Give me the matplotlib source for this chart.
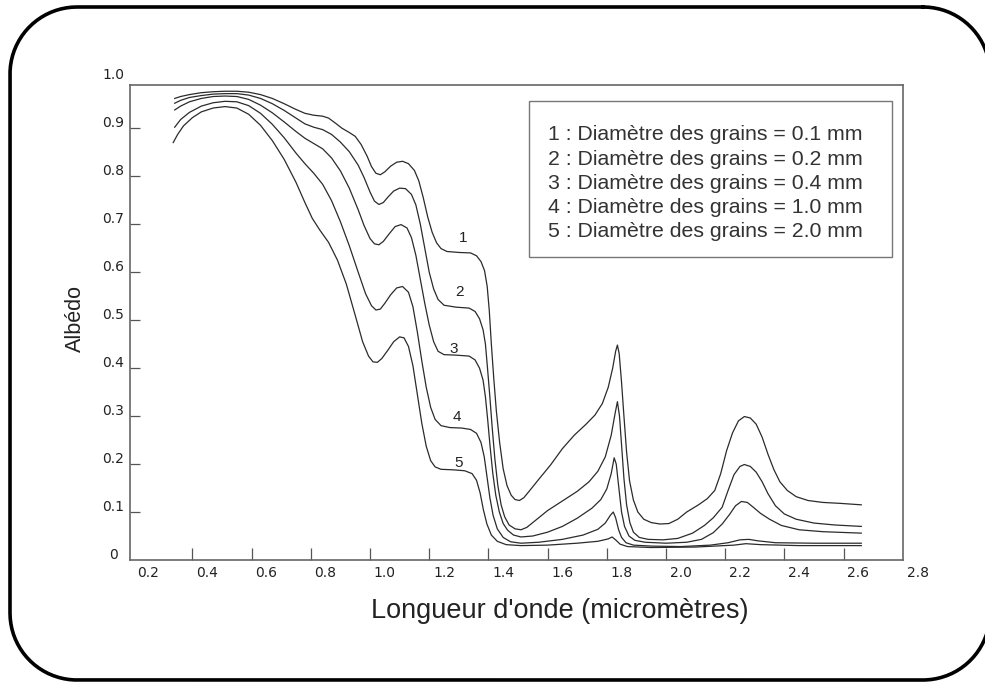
import numpy as np
import matplotlib.pyplot as plt
from matplotlib.patches import Rectangle
from matplotlib.lines import Line2D

plt.rcParams['font.family'] = ['Liberation Sans', 'DejaVu Sans']

# wavelength (micrometres) / albedo
wl1 = [0.29, 0.31, 0.34, 0.38, 0.42, 0.46, 0.50, 0.54, 0.58, 0.62, 0.66, 0.70, 0.73, 0.76, 0.79,
       0.81, 0.83, 0.855, 0.88, 0.90, 0.92, 0.94, 0.955, 0.97, 0.985, 1.00, 1.02, 1.04, 1.06, 1.08,
       1.10, 1.115, 1.13, 1.145, 1.16, 1.175, 1.19, 1.21, 1.25, 1.29, 1.31, 1.325, 1.337, 1.346,
       1.353, 1.36, 1.368, 1.377, 1.388, 1.40, 1.413, 1.427, 1.44, 1.455, 1.47, 1.49, 1.52, 1.56,
       1.60, 1.64, 1.68, 1.71, 1.735, 1.755, 1.77, 1.78, 1.786, 1.792, 1.80, 1.808, 1.817, 1.827,
       1.84, 1.855, 1.875, 1.90, 1.93, 1.96, 1.99, 2.02, 2.06, 2.09, 2.115, 2.135, 2.155, 2.175,
       2.195, 2.215, 2.235, 2.255, 2.275, 2.295, 2.315, 2.335, 2.36, 2.39, 2.43, 2.48, 2.54, 2.61]
alb1 = [0.962, 0.966, 0.970, 0.974, 0.976, 0.977, 0.977, 0.975, 0.970, 0.962, 0.951, 0.939, 0.931,
        0.927, 0.925, 0.921, 0.912, 0.900, 0.891, 0.883, 0.866, 0.842, 0.820, 0.806, 0.803, 0.809,
        0.821, 0.829, 0.831, 0.826, 0.812, 0.790, 0.755, 0.715, 0.683, 0.661, 0.649, 0.643, 0.641,
        0.640, 0.634, 0.622, 0.603, 0.570, 0.520, 0.450, 0.380, 0.310, 0.245, 0.190, 0.155, 0.135,
        0.126, 0.124, 0.130, 0.145, 0.168, 0.198, 0.232, 0.260, 0.283, 0.302, 0.326, 0.360, 0.400,
        0.435, 0.448, 0.430, 0.370, 0.300, 0.225, 0.165, 0.125, 0.100, 0.085, 0.078, 0.075, 0.076,
        0.085, 0.100, 0.115, 0.128, 0.145, 0.180, 0.228, 0.265, 0.290, 0.299, 0.296, 0.283, 0.256,
        0.220, 0.188, 0.163, 0.145, 0.132, 0.124, 0.120, 0.118, 0.115]

wl2 = [0.29, 0.31, 0.34, 0.38, 0.42, 0.46, 0.50, 0.54, 0.58, 0.62, 0.66, 0.70, 0.73, 0.76, 0.79,
       0.82, 0.85, 0.88, 0.91, 0.93, 0.95, 0.965, 0.98, 0.995, 1.01, 1.03, 1.05, 1.07, 1.09, 1.105,
       1.12, 1.135, 1.15, 1.165, 1.18, 1.20, 1.24, 1.285, 1.305, 1.32, 1.332, 1.34, 1.347, 1.355,
       1.363, 1.372, 1.382, 1.393, 1.405, 1.42, 1.44, 1.46, 1.48, 1.51, 1.55, 1.60, 1.65, 1.69,
       1.72, 1.745, 1.765, 1.778, 1.786, 1.793, 1.80, 1.808, 1.817, 1.828, 1.84, 1.86, 1.89, 1.94,
       1.99, 2.04, 2.08, 2.11, 2.14, 2.16, 2.18, 2.20, 2.215, 2.235, 2.255, 2.275, 2.295, 2.32,
       2.35, 2.39, 2.45, 2.52, 2.61]
alb2 = [0.952, 0.958, 0.964, 0.968, 0.971, 0.972, 0.972, 0.969, 0.962, 0.951, 0.937, 0.921, 0.909,
        0.902, 0.897, 0.887, 0.871, 0.851, 0.823, 0.797, 0.767, 0.748, 0.741, 0.745, 0.756, 0.769,
        0.775, 0.774, 0.762, 0.740, 0.700, 0.650, 0.600, 0.565, 0.543, 0.531, 0.527, 0.525, 0.518,
        0.503, 0.480, 0.450, 0.400, 0.340, 0.275, 0.210, 0.155, 0.115, 0.090, 0.073, 0.065, 0.063,
        0.068, 0.083, 0.103, 0.123, 0.143, 0.163, 0.185, 0.215, 0.260, 0.305, 0.330, 0.300, 0.240,
        0.170, 0.115, 0.078, 0.058, 0.047, 0.043, 0.042, 0.045, 0.056, 0.072, 0.088, 0.110, 0.145,
        0.178, 0.195, 0.199, 0.195, 0.183, 0.163, 0.138, 0.113, 0.096, 0.085, 0.077, 0.073, 0.070]

wl3 = [0.29, 0.31, 0.34, 0.38, 0.42, 0.46, 0.50, 0.54, 0.58, 0.62, 0.66, 0.70, 0.73, 0.76, 0.79,
       0.82, 0.85, 0.88, 0.91, 0.93, 0.95, 0.965, 0.98, 0.995, 1.015, 1.035, 1.055, 1.075, 1.09,
       1.105, 1.12, 1.135, 1.15, 1.165, 1.18, 1.20, 1.24, 1.285, 1.305, 1.32, 1.332, 1.34, 1.348,
       1.356, 1.365, 1.375, 1.387, 1.40, 1.415, 1.435, 1.46, 1.50, 1.55, 1.60, 1.65, 1.70, 1.73,
       1.75, 1.765, 1.775, 1.782, 1.79, 1.80, 1.81, 1.825, 1.845, 1.88, 1.95, 2.02, 2.07, 2.11,
       2.14, 2.165, 2.185, 2.205, 2.225, 2.245, 2.27, 2.30, 2.34, 2.40, 2.48, 2.61]
alb3 = [0.938, 0.946, 0.955, 0.962, 0.966, 0.967, 0.966, 0.960, 0.948, 0.932, 0.913, 0.893, 0.879,
        0.868, 0.857, 0.838, 0.811, 0.775, 0.730, 0.697, 0.670, 0.659, 0.657, 0.664, 0.680, 0.695,
        0.699, 0.692, 0.672, 0.635, 0.585, 0.535, 0.490, 0.455, 0.435, 0.428, 0.427, 0.425, 0.417,
        0.400, 0.375, 0.340, 0.290, 0.235, 0.180, 0.135, 0.100, 0.076, 0.062, 0.052, 0.048, 0.050,
        0.058, 0.070, 0.087, 0.108, 0.126, 0.148, 0.180, 0.213, 0.200, 0.155, 0.100, 0.070, 0.050,
        0.041, 0.037, 0.035, 0.037, 0.043, 0.057, 0.075, 0.095, 0.113, 0.122, 0.120, 0.110, 0.097,
        0.085, 0.072, 0.063, 0.059, 0.056]

wl4 = [0.29, 0.31, 0.34, 0.38, 0.42, 0.46, 0.50, 0.54, 0.58, 0.62, 0.66, 0.70, 0.73, 0.76, 0.79,
       0.82, 0.85, 0.88, 0.91, 0.935, 0.955, 0.97, 0.985, 1.00, 1.02, 1.04, 1.06, 1.08, 1.095, 1.11,
       1.125, 1.14, 1.155, 1.17, 1.19, 1.22, 1.26, 1.29, 1.31, 1.325, 1.336, 1.345, 1.355, 1.366,
       1.38, 1.40, 1.425, 1.46, 1.52, 1.60, 1.67, 1.72, 1.745, 1.762, 1.772, 1.78, 1.79, 1.80,
       1.815, 1.84, 1.90, 2.00, 2.10, 2.16, 2.20, 2.23, 2.26, 2.32, 2.45, 2.61]
alb4 = [0.902, 0.918, 0.933, 0.946, 0.953, 0.956, 0.955, 0.947, 0.931, 0.908, 0.880, 0.848, 0.826,
        0.806, 0.783, 0.749, 0.705, 0.655, 0.600, 0.555, 0.530, 0.521, 0.523, 0.535, 0.553, 0.567,
        0.570, 0.558, 0.528, 0.475, 0.415, 0.360, 0.318, 0.293, 0.280, 0.276, 0.275, 0.272, 0.264,
        0.245, 0.215, 0.175, 0.130, 0.093, 0.065, 0.047, 0.038, 0.035, 0.037, 0.043, 0.052, 0.064,
        0.077, 0.093, 0.100, 0.088, 0.063, 0.047, 0.036, 0.031, 0.029, 0.028, 0.031, 0.036, 0.042,
        0.043, 0.040, 0.036, 0.035, 0.035]

wl5 = [0.285, 0.30, 0.32, 0.35, 0.38, 0.42, 0.46, 0.50, 0.54, 0.58, 0.62, 0.66, 0.70, 0.73, 0.755,
       0.78, 0.81, 0.84, 0.87, 0.90, 0.925, 0.945, 0.96, 0.975, 0.99, 1.01, 1.03, 1.05, 1.065, 1.08,
       1.095, 1.11, 1.125, 1.14, 1.155, 1.17, 1.19, 1.23, 1.27, 1.295, 1.31, 1.322, 1.333, 1.345,
       1.36, 1.38, 1.41, 1.46, 1.55, 1.65, 1.72, 1.755, 1.768, 1.78, 1.795, 1.82, 1.90, 2.05, 2.18,
       2.22, 2.27, 2.40, 2.61]
alb5 = [0.870, 0.887, 0.905, 0.922, 0.934, 0.942, 0.945, 0.942, 0.929, 0.906, 0.874, 0.835, 0.787,
        0.745, 0.712, 0.688, 0.662, 0.625, 0.575, 0.510, 0.455, 0.425, 0.413, 0.412, 0.420, 0.437,
        0.455, 0.465, 0.463, 0.445, 0.405, 0.345, 0.285, 0.237, 0.207, 0.194, 0.189, 0.188, 0.186,
        0.180, 0.166, 0.140, 0.105, 0.075, 0.052, 0.039, 0.032, 0.030, 0.031, 0.035, 0.039, 0.044,
        0.048, 0.042, 0.033, 0.028, 0.026, 0.027, 0.031, 0.034, 0.032, 0.030, 0.030]

curve_names = ['1', '2', '3', '4', '5']
name_x = [1.264, 1.254, 1.234, 1.244, 1.251]
name_y = [0.671, 0.559, 0.440, 0.298, 0.202]

legend_lines = ['1 : Diamètre des grains = 0.1 mm',
                '2 : Diamètre des grains = 0.2 mm',
                '3 : Diamètre des grains = 0.4 mm',
                '4 : Diamètre des grains = 1.0 mm',
                '5 : Diamètre des grains = 2.0 mm']

x_labels = [0.2, 0.4, 0.6, 0.8, 1.0, 1.2, 1.4, 1.6, 1.8, 2.0, 2.2, 2.4, 2.6, 2.8]
y_labels = [0, 0.1, 0.2, 0.3, 0.4, 0.5, 0.6, 0.7, 0.8, 0.9, 1.0]
tick_shift = 0.05   # the scanned tick marks sit a bit left of their labels

W, H = 985, 682
fig = plt.figure(figsize=(W / 100, H / 100), dpi=100)
ax = fig.add_axes([130 / W, (H - 560) / H, (903 - 130) / W, (560 - 85) / H])

for wl, alb in zip([wl1, wl2, wl3, wl4, wl5], [alb1, alb2, alb3, alb4, alb5]):
    ax.plot(wl, alb, color='#2b2b2b', lw=0.9, solid_joinstyle='round')

for name, xx, yy in zip(curve_names, name_x, name_y):
    ax.text(xx, yy, name, fontsize=11, ha='center', va='center', color='#222')

ax.set_xlim(0.139, 2.751)
ax.set_ylim(0, 0.99)

ax.set_xticks(np.array(x_labels[1:-1]) - tick_shift)
ax.set_yticks(y_labels[1:-1])
ax.tick_params(axis='x', direction='in', length=8.5, width=0.9, color='#555', labelbottom=False)
ax.tick_params(axis='y', direction='in', length=7, width=0.9, color='#555', labelleft=False)
for sp in ax.spines.values():
    sp.set_color('#666')
    sp.set_linewidth(1.2)

tick_font = dict(fontsize=10, family='DejaVu Sans', color='#222')
for v in x_labels:
    ax.annotate(f'{v:.1f}', xy=(v, 0), xycoords=('data', 'axes fraction'), xytext=(0, -13),
                textcoords='offset pixels', ha='center', va='center',
                annotation_clip=False, **tick_font)
for v in y_labels:
    lab = '0' if v == 0 else f'{v:.1f}'
    ax.annotate(lab, xy=(0, v), xycoords=('axes fraction', 'data'), xytext=(-17, 5),
                textcoords='offset pixels', ha='center', va='center',
                annotation_clip=False, **tick_font)

fig.text(560 / W, 1 - 618 / H, "Longueur d'onde (micromètres)", ha='center', va='baseline',
         fontsize=19.5, color='#222')
fig.text(75 / W, 1 - 318 / H, 'Albédo', rotation=90, ha='center', va='center',
         fontsize=15.5, color='#222')

# legend box
fig.add_artist(Rectangle((529 / W, 1 - 257 / H), 363 / W, 156 / H, transform=fig.transFigure,
                         fill=False, edgecolor='#777', lw=1))
for i, line in enumerate(legend_lines):
    fig.text(548 / W, 1 - (135 + i * 24.2) / H, line, ha='left', va='center',
             fontsize=15.3, color='#333')

# rounded frame of the scan (pixel units, y downwards); its right side runs off the image
left, top, right, bottom, r = 10, 7, 990, 680, 67
corners = [(right - r, top + r, 90, 0), (right - r, bottom - r, 0, -90),
           (left + r, bottom - r, -90, -180), (left + r, top + r, 180, 90)]
fx, fy = [], []
for cx, cy, a0, a1 in corners:
    t = np.radians(np.linspace(a0, a1, 40))
    fx.extend(cx + r * np.cos(t))
    fy.extend(cy - r * np.sin(t))
fx.append(fx[0])
fy.append(fy[0])
fig.add_artist(Line2D(np.array(fx) / W, 1 - np.array(fy) / H, transform=fig.transFigure,
                      color='black', lw=2.6))

fig.savefig('out.png', dpi=100)
